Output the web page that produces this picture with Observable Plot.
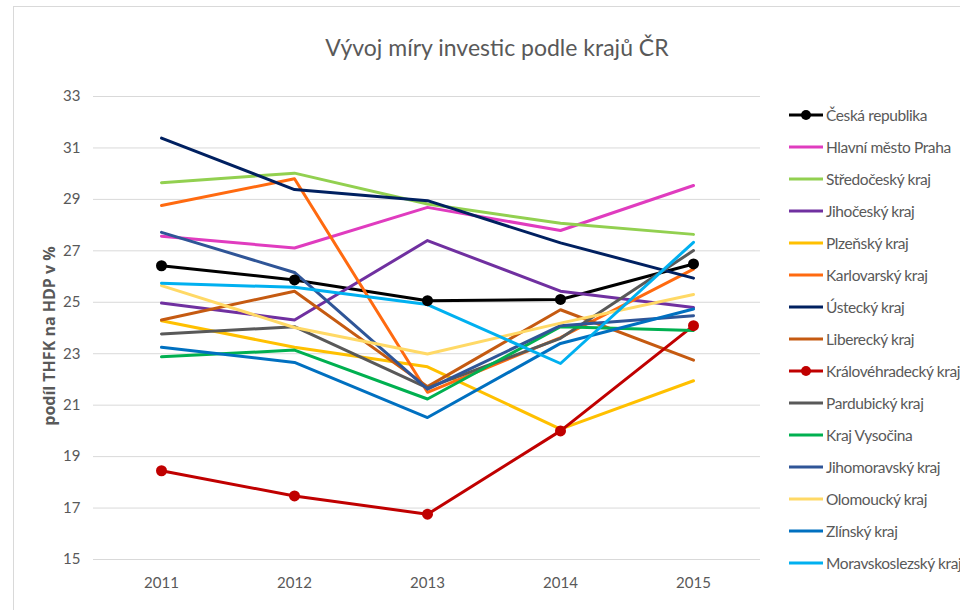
<!DOCTYPE html>
<html>
<head>
<meta charset="utf-8">
<script src="https://cdn.jsdelivr.net/npm/d3@7"></script>
<script src="https://cdn.jsdelivr.net/npm/@observablehq/plot@0.6"></script>
<style>
  html, body { margin: 0; padding: 0; background: #ffffff; }
  #wrap { position: relative; width: 960px; height: 610px; overflow: hidden; font-family: Lato, "Open Sans", sans-serif; }
  #frame { position: absolute; left: 13px; top: 6px; width: 1000px; height: 700px; border: 1px solid #d9d9d9; box-sizing: border-box; }
  #title { position: absolute; left: 0; top: 33px; width: 994px; text-align: center; font-size: 23px; color: #595959; }
  #ylabel { position: absolute; left: 49px; top: 336px; transform: translate(-50%, -50%) rotate(-90deg); white-space: nowrap; font-size: 16px; font-weight: bold; color: #595959; font-family: "Open Sans", sans-serif; }
  #legend { position: absolute; left: 788px; top: 0; }
  .item { position: absolute; left: 0; height: 20px; white-space: nowrap; }
  .item svg { position: absolute; left: 0; top: 0; }
  .item span { position: absolute; left: 38px; top: 0; line-height: 20px; font-size: 15.5px; letter-spacing: -0.4px; color: #595959; }
  #plot { position: absolute; left: 0; top: 0; }
</style>
</head>
<body>
<div id="wrap">
  <div id="frame"></div>
  <div id="plot"></div>
  <div id="title">Vývoj míry investic podle krajů ČR</div>
  <div id="ylabel">podíl THFK na HDP v %</div>
  <div id="legend"></div>
</div>
<script>
const years = ["2011", "2012", "2013", "2014", "2015"];
const regions = [
  "Česká republika", "Hlavní město Praha", "Středočeský kraj", "Jihočeský kraj",
  "Plzeňský kraj", "Karlovarský kraj", "Ústecký kraj", "Liberecký kraj",
  "Královéhradecký kraj", "Pardubický kraj", "Kraj Vysočina", "Jihomoravský kraj",
  "Olomoucký kraj", "Zlínský kraj", "Moravskoslezský kraj"
];
const colors = [
  "#000000", "#e03cbf", "#92d050", "#7030a0",
  "#ffc000", "#ff6a10", "#002060", "#c55a11",
  "#c00000", "#595959", "#00b050", "#2f5597",
  "#ffd966", "#0070c0", "#00b0f0"
];
const withMarkers = ["Česká republika", "Královéhradecký kraj"];

const ceskaRepublika   = [26.42, 25.87, 25.06, 25.11, 26.49];
const praha            = [27.57, 27.11, 28.69, 27.79, 29.54];
const stredocesky      = [29.65, 30.02, 28.82, 28.07, 27.64];
const jihocesky        = [24.97, 24.31, 27.40, 25.43, 24.80];
const plzensky         = [24.28, 23.25, 22.49, 20.07, 21.95];
const karlovarsky      = [28.76, 29.80, 21.50, 23.63, 26.29];
const ustecky          = [31.38, 29.38, 28.95, 27.31, 25.94];
const liberecky        = [24.31, 25.43, 21.72, 24.71, 22.75];
const kralovehradecky  = [18.45, 17.47, 16.76, 20.00, 24.09];
const pardubicky       = [23.77, 24.05, 21.67, 23.60, 27.01];
const vysocina         = [22.88, 23.14, 21.24, 24.05, 23.90];
const jihomoravsky     = [27.72, 26.16, 21.62, 24.09, 24.48];
const olomoucky        = [25.65, 24.02, 22.99, 24.19, 25.30];
const zlinsky          = [23.25, 22.66, 20.52, 23.40, 24.74];
const moravskoslezsky  = [25.74, 25.58, 24.91, 22.62, 27.33];
const yTicks = [15, 17, 19, 21, 23, 25, 27, 29, 31, 33];

const seriesValues = [
  ceskaRepublika, praha, stredocesky, jihocesky, plzensky, karlovarsky, ustecky,
  liberecky, kralovehradecky, pardubicky, vysocina, jihomoravsky, olomoucky,
  zlinsky, moravskoslezsky
];

const rows = [];
regions.forEach((r, i) => {
  years.forEach((y, j) => rows.push({region: r, year: y, value: seriesValues[i][j]}));
});
const markerRows = rows.filter(d => withMarkers.includes(d.region));

const chart = Plot.plot({
  width: 960,
  height: 610,
  marginLeft: 93,
  marginRight: 200,
  marginTop: 96,
  marginBottom: 51,
  style: {fontFamily: 'Lato, "Open Sans", sans-serif', fontSize: "15px", color: "#595959", background: "transparent"},
  x: {type: "point", domain: years, padding: 0.5, label: null, tickSize: 0, tickPadding: 18},
  y: {domain: [15, 33], ticks: yTicks, label: null, tickSize: 0, tickPadding: 13},
  color: {domain: regions, range: colors},
  marks: [
    Plot.ruleY(yTicks, {stroke: "#d9d9d9", strokeWidth: 1}),
    Plot.line(rows, {x: "year", y: "value", z: "region", stroke: "region", strokeWidth: 3, strokeLinejoin: "round", strokeLinecap: "round"}),
    Plot.dot(markerRows, {x: "year", y: "value", fill: "region", r: 5.5, stroke: null})
  ]
});
document.getElementById("plot").appendChild(chart);

const legend = d3.select("#legend");
regions.forEach((r, i) => {
  const item = legend.append("div").attr("class", "item").style("top", (105 + i * 32) + "px");
  const s = item.append("svg").attr("width", 36).attr("height", 20);
  s.append("line").attr("x1", 1).attr("x2", 35).attr("y1", 10).attr("y2", 10)
    .attr("stroke", colors[i]).attr("stroke-width", 3);
  if (withMarkers.includes(r)) s.append("circle").attr("cx", 18).attr("cy", 10).attr("r", 5).attr("fill", colors[i]);
  item.append("span").text(r);
});
</script>
</body>
</html>
